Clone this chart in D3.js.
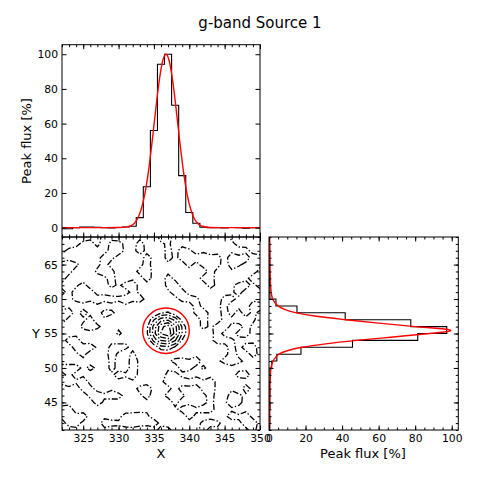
<!DOCTYPE html>
<html>
<head>
<meta charset="UTF-8">
<title>g-band Source 1</title>
<script src="https://cdnjs.cloudflare.com/ajax/libs/d3/7.8.5/d3.min.js"></script>
<style>
  body { margin: 0; background: #fff; }
  svg text { font-family: "DejaVu Sans", sans-serif; fill: #000; }
</style>
</head>
<body>
<svg id="fig" width="481" height="482"></svg>
<script>
// cutout pixel grid: x 322..350 (columns), y 69..41 (rows, top to bottom)
var gridX0 = 322, gridY0 = 69, gridN = 29;

// top panel: profile along X through the source (percent of peak)
var profX = [322, 323, 324, 325, 326, 327, 328, 329, 330, 331, 332, 333, 334, 335, 336,
             337, 338, 339, 340, 341, 342, 343, 344, 345, 346, 347, 348, 349, 350];
var profXFlux = [-0.6, -0.6, 0, 0.3, 0.3, 0.2, 0, -0.2, 0.1, 0.4, 0.8, 5.8, 23.6, 56, 94.2,
                 100, 70.6, 30, 8.7, 2.5, 0.2, 0, 0, -0.2, 0.1, 0, -0.3, 0, 0];

// right panel: profile along Y (bins start at these y values, one pixel tall)
var profY = [41, 42, 43, 44, 45, 46, 47, 48, 49, 50, 51, 52, 53, 54,
             55, 56, 57, 58, 59, 60, 61, 62, 63, 64, 65, 66, 67, 68];
var profYFlux = [0.4, 0.5, 0.3, 0.6, 0.4, 0.5, 0.3, 0.6, 0.5, 1.5, 4.3, 17.5, 45.7, 81.4,
                 97.3, 77.6, 41.7, 15.3, 3.8, 0.5, 0.5, 0.3, 0.4, 0.2, 0.3, 0.4, 0.3, 0.2];

// fitted profiles (red)
var fitX = [322, 328, 330, 331, 331.7, 332.2, 332.7, 333.2, 333.7, 334.2, 334.7, 335.2, 335.7, 336.2,
            336.7, 337.2, 337.7, 338.2, 338.7, 339.2, 339.7, 340.2, 340.7, 341.2, 341.7, 343, 345, 350];
var fitXFlux = [0, 0, 0.05, 0.3, 1.0, 2.4, 5.3, 10.6, 19.1, 31.7, 48, 66.2, 83.2, 95.5,
                100, 95.5, 83.2, 66.2, 48, 31.7, 19.1, 10.6, 5.3, 2.4, 1.0, 0.1, 0, 0];
var fitY = [41, 45, 48, 49.5, 50.5, 51, 51.5, 52, 52.5, 53, 53.5, 54, 54.5, 55, 55.25,
            55.45, 55.65, 56, 56.5, 57, 57.5, 58, 58.5, 59, 60, 61, 63, 66, 69];
var fitYFlux = [0.3, 0.4, 0.6, 0.9, 1.5, 2.2, 3.5, 5.5, 10, 18, 31, 48, 68, 88, 97,
                99.5, 96, 80, 60, 42, 26, 15, 8.5, 5, 2, 1.2, 0.7, 0.5, 0.4];

// background noise map (one digit per pixel, rows from y=69 down to y=41)
var noiseRows = [
  "78697812031210872130212079868",
  "89721707821821361203120128797",
  "72130127831920172861302130278",
  "12031286213082173768987287912",
  "79621372130281031272897186213",
  "87120687031792130213082130217",
  "81302137203182173120872130298",
  "21380217389213078213082137928",
  "72869130217302138721302138021",
  "12786978697821302786130872130",
  "13021302130213021308213702189",
  "78273086213021302137921818072",
  "82137130213021302130821779861",
  "13078621302130213021738921730",
  "21302130621302130213028217913",
  "18721302130213021302137862130",
  "21879307862130213021302181972",
  "21370218307213021302130283082",
  "13021307218302137869213796302",
  "86927307218302130872613021302",
  "27130213869213078213021308721",
  "78692130213021386978692130213",
  "13087213021783028130792130821",
  "21307869721380278621372186302",
  "13021830213021307130271398021",
  "87213021302130213786972130213",
  "79682130287961302173021386921",
  "18730278697869213021786213792",
  "21302130213021871302813021371"
];
// the source itself, columns 333..340, rows y=59..52
var sourceCol0 = 11, sourceRow0 = 10;
var sourceBlock = [
  [0, 0, 0, 0, 0, 0, 0, 0],
  [0, 0, 0, 4.1, 5.1, 1.2, 0, 0],
  [0, 0, 8.9, 16.7, 18.3, 12.5, 2.6, 0],
  [0, 3.1, 16, 27.7, 31.1, 20.9, 8.3, 0],
  [0, 3.6, 16.7, 29.3, 33.3, 21.9, 8.9, 0],
  [0, 0, 10.7, 19.1, 20.9, 14.5, 4.1, 0],
  [0, 0, 0.8, 6.7, 7.7, 3.6, 0, 0],
  [0, 0, 0, 0, 0, 0, 0, 0]
];
var contourLevels = [4.5, 9, 14, 19, 24, 29];

// aperture drawn in red
var aperture = {x: 336.7, y: 55.4, r: 3.3};

var xMajor = [325, 330, 335, 340, 345, 350];
var yMajor = [45, 50, 55, 60, 65];
var fluxMajor = [0, 20, 40, 60, 80, 100];
var xMinor = d3.range(322, 351);
var yMinor = d3.range(41, 70);
var fluxMinor = [0, 5, 10, 15, 20, 25, 30, 35, 40, 45, 50, 55, 60, 65, 70, 75, 80, 85, 90, 95, 100];

var svg = d3.select("#fig");

var xC = d3.scaleLinear().domain([322, 350]).range([62, 260]);
var yC = d3.scaleLinear().domain([41, 69]).range([430, 237]);
var yT = d3.scaleLinear().domain([-5.4, 105.5]).range([237, 44.7]);
var xR = d3.scaleLinear().domain([0, 103.6]).range([269, 458.3]);

function clip(id, x0, y0, x1, y1) {
  svg.append("clipPath").attr("id", id).append("rect")
    .attr("x", x0).attr("y", y0).attr("width", x1 - x0).attr("height", y1 - y0);
}
clip("cTop", 62, 44.7, 260, 237);
clip("cMap", 62, 237, 260, 430);
clip("cRight", 269, 237, 458.3, 430);

// ---- top panel
var gTop = svg.append("g").attr("clip-path", "url(#cTop)");
var stepX = profX.flatMap(function(c, i) { return [[c - 0.5, profXFlux[i]], [c + 0.5, profXFlux[i]]]; });
gTop.append("path").datum(stepX)
  .attr("d", d3.line().x(function(d) { return xC(d[0]); }).y(function(d) { return yT(d[1]); }))
  .attr("fill", "none").attr("stroke", "#000").attr("stroke-width", 1.1);
gTop.append("path").datum(fitX.map(function(x, i) { return [x, fitXFlux[i]]; }))
  .attr("d", d3.line().curve(d3.curveMonotoneX).x(function(d) { return xC(d[0]); }).y(function(d) { return yT(d[1]); }))
  .attr("fill", "none").attr("stroke", "#ff0000").attr("stroke-width", 1.4);

// ---- right panel
var gRight = svg.append("g").attr("clip-path", "url(#cRight)");
var stepY = profY.flatMap(function(y, i) { return [[profYFlux[i], y], [profYFlux[i], y + 1]]; });
gRight.append("path").datum(stepY)
  .attr("d", d3.line().x(function(d) { return xR(d[0]); }).y(function(d) { return yC(d[1]); }))
  .attr("fill", "none").attr("stroke", "#000").attr("stroke-width", 1.1);
gRight.append("path").datum(fitY.map(function(y, i) { return [fitYFlux[i], y]; }))
  .attr("d", d3.line().curve(d3.curveMonotoneY).x(function(d) { return xR(d[0]); }).y(function(d) { return yC(d[1]); }))
  .attr("fill", "none").attr("stroke", "#ff0000").attr("stroke-width", 1.4);

// ---- contour map
var values = [];
noiseRows.forEach(function(row, j) {
  for (var i = 0; i < gridN; i++) {
    var v = +row[i];
    var bi = i - sourceCol0, bj = j - sourceRow0;
    if (bi >= 0 && bi < 8 && bj >= 0 && bj < 8) v = sourceBlock[bj][bi];
    values.push(v);
  }
});
var toData = d3.geoTransform({
  point: function(u, v) {
    this.stream.point(xC(gridX0 + u - 0.5), yC(gridY0 - (v - 0.5)));
  }
});
var contourPath = d3.geoPath(toData);
var gMap = svg.append("g").attr("clip-path", "url(#cMap)");
gMap.selectAll("path.ct")
  .data(d3.contours().size([gridN, gridN]).thresholds(contourLevels)(values))
  .join("path").attr("class", "ct")
  .attr("d", contourPath)
  .attr("fill", "none").attr("stroke", "#000").attr("stroke-width", 1.3)
  .attr("stroke-dasharray", "6,2,1.4,2");
gMap.append("ellipse")
  .attr("cx", xC(aperture.x)).attr("cy", yC(aperture.y))
  .attr("rx", xC(aperture.x + aperture.r) - xC(aperture.x))
  .attr("ry", yC(aperture.y - aperture.r) - yC(aperture.y))
  .attr("fill", "none").attr("stroke", "#ff0000").attr("stroke-width", 1.4);

// ---- axes (ticks point inward)
function addTicks(gen, scale, at, major, minor, labels) {
  var gs = [];
  if (minor) {
    gs.push(svg.append("g").attr("transform", at)
      .call(gen(scale).tickValues(minor).tickSize(-2.5).tickFormat("")));
  }
  gs.push(svg.append("g").attr("transform", at)
    .call(gen(scale).tickValues(major).tickSize(-4.5).tickPadding(4)
      .tickFormat(labels ? d3.format("d") : "")));
  gs.forEach(function(g) {
    g.select(".domain").remove();
    g.selectAll("line").attr("stroke-width", 1);
    g.selectAll("text").style("font-family", "DejaVu Sans").style("font-size", "10.8px");
  });
}
// top panel
addTicks(d3.axisLeft, yT, "translate(62,0)", fluxMajor, null, true);
addTicks(d3.axisRight, yT, "translate(260,0)", fluxMajor, null, false);
addTicks(d3.axisBottom, xC, "translate(0,237)", xMajor, xMinor, false);
addTicks(d3.axisTop, xC, "translate(0,44.7)", xMajor, xMinor, false);
// contour map
addTicks(d3.axisLeft, yC, "translate(62,0)", yMajor, yMinor, true);
addTicks(d3.axisRight, yC, "translate(260,0)", yMajor, yMinor, false);
addTicks(d3.axisBottom, xC, "translate(0,430)", xMajor, xMinor, true);
addTicks(d3.axisTop, xC, "translate(0,237)", xMajor, xMinor, false);
// right panel
addTicks(d3.axisLeft, yC, "translate(269,0)", yMajor, yMinor, false);
addTicks(d3.axisRight, yC, "translate(458.3,0)", yMajor, yMinor, false);
addTicks(d3.axisBottom, xR, "translate(0,430)", fluxMajor, fluxMinor, true);
addTicks(d3.axisTop, xR, "translate(0,237)", fluxMajor, fluxMinor, false);

// frames
[[62, 44.7, 260, 237], [62, 237, 260, 430], [269, 237, 458.3, 430]].forEach(function(b) {
  svg.append("rect").attr("x", b[0]).attr("y", b[1]).attr("width", b[2] - b[0]).attr("height", b[3] - b[1])
    .attr("fill", "none").attr("stroke", "#000").attr("stroke-width", 1);
});

// labels
svg.append("text").attr("x", 260).attr("y", 27.5).attr("text-anchor", "middle")
  .style("font-size", "15px").text("g-band Source 1");
svg.append("text").attr("transform", "translate(31,141) rotate(-90)").attr("text-anchor", "middle")
  .style("font-size", "13px").text("Peak flux [%]");
svg.append("text").attr("x", 36).attr("y", 338).attr("text-anchor", "middle")
  .style("font-size", "13px").text("Y");
svg.append("text").attr("x", 161).attr("y", 458).attr("text-anchor", "middle")
  .style("font-size", "13px").text("X");
svg.append("text").attr("x", 363).attr("y", 458).attr("text-anchor", "middle")
  .style("font-size", "13px").text("Peak flux [%]");
</script>
</body>
</html>
